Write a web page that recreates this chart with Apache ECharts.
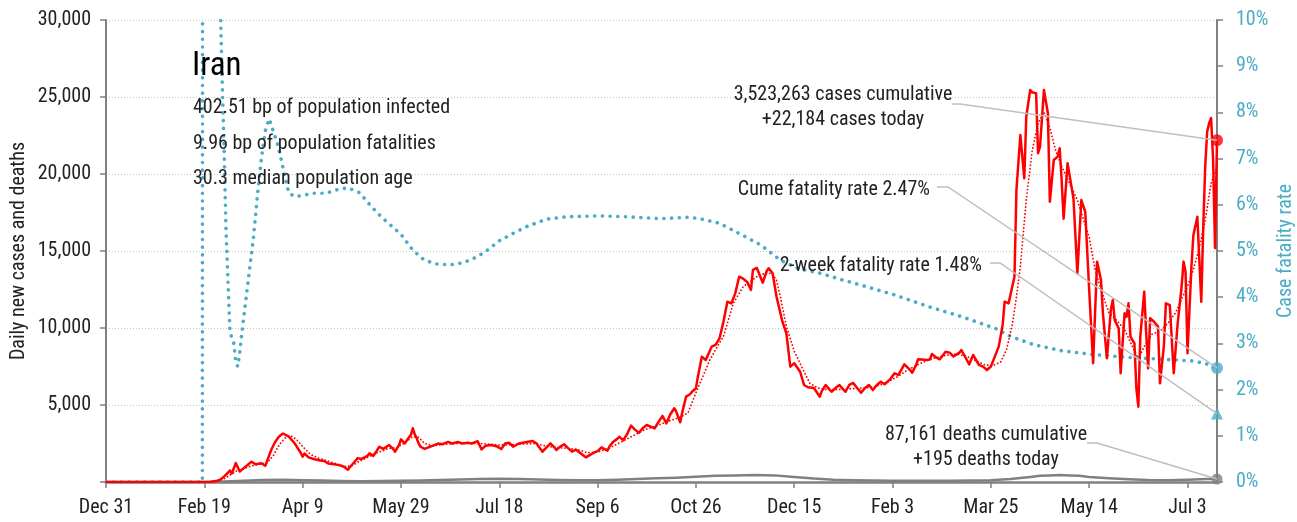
<!DOCTYPE html>
<html>
<head>
<meta charset="utf-8">
<title>Iran</title>
<script src="https://cdn.jsdelivr.net/npm/echarts@6/dist/echarts.min.js"></script>
<style>
  html, body { margin: 0; padding: 0; background: #ffffff; }
  #chart { width: 1297px; height: 522px; }
</style>
</head>
<body>
<div id="chart"></div>
<script>
// Days are counted from Dec 31, 2019 (day 0).
const START_DATE = Date.UTC(2019, 11, 31);
const LAST_DAY = 565;
const DAY_TICK_STEP = 50;
const MONTHS = ['Jan', 'Feb', 'Mar', 'Apr', 'May', 'Jun', 'Jul', 'Aug', 'Sep', 'Oct', 'Nov', 'Dec'];

const country = 'Iran';
const infoLines = [
  '402.51 bp of population infected',
  '9.96 bp of population fatalities',
  '30.3 median population age'
];
const totalCases = 3523263;
const totalDeaths = 87161;
const twoWeekFatalityRate = 1.48;

// Daily new cases: [day, cases]
const dailyCases = [
  [0,0],[50,0],[53,20],[56,60],[58,150],[60,350],[62,600],[63,750],[64,550],[66,1230],[68,680],[70,900],
  [72,1100],[74,1320],[76,1150],[77,1100],[79,1220],[81,1050],[82,950],[84,2080],[86,2600],[88,2950],
  [90,3150],[91,3100],[93,2950],[94,2850],[96,2500],[97,2300],[99,1900],[100,1650],[101,1850],[103,1600],
  [104,1550],[106,1480],[107,1430],[109,1400],[111,1360],[113,1200],[114,1100],[116,1150],[117,1100],
  [119,1080],[121,990],[122,900],[123,800],[125,1100],[127,1400],[128,1550],[130,1500],[131,1470],
  [133,1700],[134,1860],[136,1700],[137,1750],[139,2290],[141,2150],[142,2080],[144,2400],[146,2150],
  [147,1970],[149,2400],[150,2770],[152,2510],[154,2900],[155,3050],[156,3490],[157,3100],[158,2840],
  [159,2500],[160,2290],[162,2150],[163,2080],[165,2300],[167,2400],[169,2500],[171,2450],[172,2510],
  [174,2600],[176,2500],[177,2550],[179,2600],[181,2500],[182,2470],[184,2550],[186,2500],[187,2550],
  [189,2650],[190,2660],[191,2120],[193,2350],[194,2470],[196,2400],[197,2450],[199,2300],[201,2140],
  [203,2500],[205,2550],[207,2290],[208,2300],[210,2500],[212,2550],[214,2600],[217,2660],[219,2500],
  [220,2300],[222,1970],[224,2250],[226,2510],[228,2250],[229,2080],[231,2300],[233,2450],[235,2200],
  [237,1970],[239,2100],[240,2080],[242,1800],[244,1600],[246,1750],[248,1900],[250,2000],[252,2250],
  [253,2250],[255,2030],[256,2300],[258,2620],[260,2800],[261,2940],[263,2720],[265,3100],[267,3660],
  [269,3400],[271,3200],[273,3500],[275,3700],[277,3600],[279,3480],[281,3900],[283,4290],[285,3810],
  [287,4400],[289,4790],[290,4570],[292,3880],[293,4500],[295,5540],[297,5700],[298,5860],[300,6080],
  [301,6840],[303,8140],[305,7920],[306,8000],[308,8790],[310,8900],[312,9330],[314,10410],[316,11710],
  [318,11600],[320,12250],[322,13330],[324,13200],[326,13010],[328,12470],[329,13770],[331,13900],
  [332,13980],[334,12940],[336,13700],[337,13880],[339,13550],[341,12030],[343,10950],[344,10410],
  [346,9660],[348,7490],[350,7710],[351,7600],[353,7160],[355,6300],[357,6150],[358,6080],[360,6100],
  [363,5540],[364,5900],[366,6300],[368,6000],[369,5860],[371,6100],[373,6300],[375,6000],[376,5860],
  [378,6300],[380,6430],[382,6100],[384,5800],[386,6100],[388,6300],[390,5970],[392,6300],[394,6510],
  [396,6350],[397,6300],[399,6700],[401,7060],[403,6950],[404,6950],[406,7640],[408,7400],[410,7100],
  [412,7600],[413,7970],[415,7950],[417,7920],[419,7950],[420,8310],[422,8100],[424,7970],[426,8300],
  [427,8460],[429,8400],[431,8150],[432,8030],[434,8400],[435,8570],[437,8100],[439,7640],[441,8250],
  [443,7800],[444,7600],[446,7490],[448,7270],[450,7500],[452,8140],[454,8790],[456,10200],[457,11710],
  [459,11600],[460,11490],[462,13330],[463,18960],[465,22530],[467,19720],[468,23720],[470,25460],
  [471,25300],[472,25400],[473,25240],[474,21350],[475,21780],[477,25460],[479,23940],[480,18200],
  [482,20910],[484,21130],[485,21670],[486,19610],[487,17100],[489,20700],[491,19180],[492,18420],
  [494,13550],[496,18310],[498,17550],[500,12470],[502,7710],[504,14310],[506,13120],[507,10950],
  [509,8030],[511,11170],[512,11820],[513,10500],[515,9980],[516,7060],[518,10950],[519,10730],
  [520,11600],[521,9440],[523,9000],[524,6080],[525,4890],[526,9440],[528,12360],[529,9660],[530,7380],
  [531,10630],[533,10410],[535,10090],[536,6410],[538,8860],[539,11600],[541,11490],[542,11600],
  [543,7060],[545,10300],[547,12680],[548,14310],[549,13660],[550,8360],[552,14000],[553,16040],
  [554,16150],[555,17230],[556,17120],[557,11710],[558,16500],[559,20480],[560,22750],[561,23300],
  [562,23640],[563,21000],[564,15200],[565,22184]
];

// 7-day average of new cases: [day, cases]
const averageCases = [
  [0,0],[52,0],[56,30],[60,200],[63,450],[66,700],[70,850],[74,1050],[78,1150],[82,1250],[85,1700],
  [88,2400],[91,2850],[94,3000],[97,2750],[100,2300],[104,1800],[108,1550],[113,1350],[118,1150],
  [122,1000],[125,1050],[129,1350],[133,1600],[138,1900],[143,2150],[148,2250],[152,2550],[156,2950],
  [159,2900],[162,2500],[166,2350],[172,2450],[180,2520],[190,2500],[200,2400],[210,2450],[218,2500],
  [225,2300],[233,2200],[240,2100],[245,1900],[250,1950],[256,2200],[262,2600],[268,3000],[274,3400],
  [280,3650],[286,3950],[292,4200],[296,4500],[300,5800],[304,7000],[307,7900],[310,8600],[314,9440],
  [319,11600],[324,12680],[331,13330],[336,13600],[339,13500],[341,13100],[343,12000],[346,10100],
  [350,8500],[353,7700],[356,6900],[358,6400],[362,6100],[367,6000],[372,6000],[378,6050],[384,6100],
  [390,6150],[396,6400],[402,6800],[408,7300],[414,7700],[420,8000],[426,8200],[432,8300],[437,8200],
  [442,7900],[447,7600],[451,7550],[455,7800],[458,8600],[461,10300],[463,12000],[465,14000],
  [468,18300],[471,21500],[474,23300],[477,24000],[480,23000],[483,21500],[486,20500],[490,19400],
  [494,18300],[497,17100],[500,15900],[503,13800],[506,12500],[510,11000],[514,10500],[518,9900],
  [522,8800],[525,8000],[528,8800],[532,9600],[536,9800],[540,10300],[544,11000],[547,11900],
  [550,12700],[553,13800],[556,15200],[559,17000],[562,19400],[565,20500]
];

// Daily deaths: [day, deaths]
const dailyDeaths = [
  [0,0],[50,0],[55,5],[60,30],[70,80],[80,130],[90,145],[100,120],[110,90],[120,70],[130,50],[140,60],
  [150,75],[160,100],[170,130],[180,160],[190,200],[200,210],[210,190],[220,170],[230,130],[240,110],
  [250,120],[260,150],[270,200],[280,240],[290,280],[300,340],[310,400],[320,430],[330,460],[340,430],
  [350,330],[360,220],[370,150],[380,110],[390,90],[400,80],[410,75],[420,80],[430,85],[440,95],
  [450,110],[460,200],[470,330],[475,400],[480,430],[485,450],[490,420],[495,400],[500,330],[510,250],
  [520,180],[530,130],[540,120],[550,150],[560,190],[565,195]
];

// Cumulative case fatality rate, percent: [day, rate]
const caseFatalityRate = [
  [0,0],[49,0],[50,100],[51,40],[52,22],[53,18],[54,18.6],[55,19.7],[56,15.8],[57,13.7],[58,10.6],
  [59,8.8],[60,7.3],[61,5.5],[62,4.4],[63,3.3],[64,3.1],[65,3.0],[66,2.6],[67,2.5],[68,2.8],[69,3.2],
  [71,3.9],[73,4.6],[75,5.3],[77,6.2],[79,7.0],[81,7.6],[83,7.86],[85,7.6],[87,7.35],[89,7.0],
  [91,6.6],[93,6.25],[96,6.18],[100,6.2],[105,6.25],[112,6.25],[117,6.32],[123,6.37],[129,6.26],
  [135,5.96],[140,5.74],[145,5.55],[150,5.36],[156,5.02],[162,4.8],[168,4.72],[175,4.7],[182,4.75],
  [189,4.88],[194,5.02],[200,5.22],[207,5.38],[214,5.53],[224,5.69],[234,5.74],[250,5.76],[265,5.74],
  [282,5.7],[296,5.73],[302,5.7],[312,5.6],[322,5.38],[333,5.13],[343,4.8],[352,4.62],[363,4.52],
  [374,4.38],[384,4.26],[401,4.05],[418,3.8],[435,3.58],[452,3.33],[460,3.15],[472,2.97],[486,2.84],
  [502,2.76],[519,2.7],[536,2.66],[553,2.62],[560,2.55],[565,2.47]
];

const RED = '#ff0000';
const CYAN = '#4bacc6';
const GREY = '#808080';
const LEADER = '#bfbfbf';
const TEXT = '#222222';
const FONT = "'Roboto Condensed', Roboto, sans-serif";

const last = arr => arr[arr.length - 1];
const fmt = n => n.toLocaleString('en-US');
function dayLabel(d) {
  const dt = new Date(START_DATE + d * 86400000);
  return MONTHS[dt.getUTCMonth()] + ' ' + dt.getUTCDate();
}

const chart = echarts.init(document.getElementById('chart'), null, { renderer: 'canvas' });

const axisLabelBase = { fontFamily: FONT, fontSize: 20, color: TEXT };

chart.setOption({
  animation: false,
  backgroundColor: '#ffffff',
  grid: { left: 106, right: 80, top: 20, bottom: 40, outerBoundsMode: 'none' },
  xAxis: {
    type: 'value', min: 0, max: LAST_DAY, interval: DAY_TICK_STEP,
    axisLine: { lineStyle: { color: GREY, width: 2.5 } },
    axisTick: { length: 6, lineStyle: { color: GREY, width: 1.5 } },
    axisLabel: Object.assign({}, axisLabelBase, {
      margin: 16, showMaxLabel: false,
      formatter: v => (v % DAY_TICK_STEP === 0 ? dayLabel(v) : '')
    }),
    splitLine: { show: false }
  },
  yAxis: [
    {
      type: 'value', min: 0, max: 30000, interval: 5000, position: 'left',
      name: 'Daily new cases and deaths', nameLocation: 'middle', nameGap: 77, nameMoveOverlap: false,
      nameTextStyle: { fontFamily: FONT, fontSize: 20, color: TEXT },
      axisLine: { show: true, lineStyle: { color: GREY, width: 2 } },
      axisTick: { show: true, length: 6, lineStyle: { color: GREY, width: 1.5 } },
      axisLabel: Object.assign({}, axisLabelBase, {
        margin: 15, formatter: v => (v === 0 ? '' : fmt(v))
      }),
      splitLine: { show: true, lineStyle: { color: '#c4c4c4', width: 1, type: [1, 2] } }
    },
    {
      type: 'value', min: 0, max: 10, interval: 1, position: 'right',
      name: 'Case fatality rate', nameLocation: 'middle', nameGap: 59, nameMoveOverlap: false,
      nameTextStyle: { fontFamily: FONT, fontSize: 20, color: CYAN },
      axisLine: { show: true, lineStyle: { color: GREY, width: 2 } },
      axisTick: { show: true, length: 6, lineStyle: { color: GREY, width: 1.5 } },
      axisLabel: Object.assign({}, axisLabelBase, { color: CYAN, margin: 19, formatter: '{value}%' }),
      splitLine: { show: false }
    }
  ],
  series: [
    {
      name: 'Case fatality rate', type: 'line', yAxisIndex: 1, data: caseFatalityRate,
      showSymbol: false, symbol: 'none', z: 2,
      lineStyle: { color: CYAN, width: 3.6, type: [0.1, 7.6], cap: 'round', join: 'round' }
    },
    {
      name: 'Daily deaths', type: 'line', data: dailyDeaths, showSymbol: false, symbol: 'none', z: 3,
      lineStyle: { color: GREY, width: 2.5, join: 'round' }
    },
    {
      name: '7-day average cases', type: 'line', data: averageCases, showSymbol: false, symbol: 'none', z: 4,
      lineStyle: { color: RED, width: 1.8, type: [0.1, 3.4], cap: 'round', join: 'round' }
    },
    {
      name: 'Daily new cases', type: 'line', data: dailyCases, showSymbol: false, symbol: 'none', z: 5,
      lineStyle: { color: RED, width: 2.5, join: 'round' }
    },
    {
      type: 'scatter', data: [last(dailyCases)], symbol: 'circle', symbolSize: 12, clip: false, z: 8,
      itemStyle: { color: RED }
    },
    {
      type: 'scatter', data: [last(dailyDeaths)], symbol: 'circle', symbolSize: 11, clip: false, z: 8,
      itemStyle: { color: GREY }
    },
    {
      type: 'scatter', yAxisIndex: 1, data: [last(caseFatalityRate)], symbol: 'circle', symbolSize: 12,
      clip: false, z: 8, itemStyle: { color: CYAN }
    },
    {
      type: 'scatter', yAxisIndex: 1, data: [[LAST_DAY, twoWeekFatalityRate]], symbol: 'triangle',
      symbolSize: [12, 12], clip: false, z: 8, itemStyle: { color: CYAN }
    }
  ]
});

// Marker positions from the axes, used as leader line ends.
const toPx = (pt, yi) => chart.convertToPixel({ xAxisIndex: 0, yAxisIndex: yi }, pt);
const casesEnd = toPx(last(dailyCases), 0);
const deathsEnd = toPx(last(dailyDeaths), 0);
const cfrEnd = toPx(last(caseFatalityRate), 1);
const twoWeekEnd = toPx([LAST_DAY, twoWeekFatalityRate], 1);

function label(text, x, y, size, align, color) {
  return {
    type: 'text', x: x, y: y, z: 100, silent: true,
    style: {
      text: text, fill: color || TEXT, align: align || 'left', verticalAlign: 'middle',
      font: 'normal ' + size + 'px ' + FONT
    }
  };
}
function leader(x0, y0, x1, end) {
  return {
    type: 'polyline', z: 90, silent: true,
    shape: { points: [[x0, y0], [x1, y0], [end[0], end[1]]] },
    style: { stroke: LEADER, lineWidth: 1.5, fill: null }
  };
}

chart.setOption({
  graphic: [
    label(country, 192, 67, 33, 'left', '#000000'),
    label(infoLines[0], 193, 108, 20, 'left'),
    label(infoLines[1], 193, 144, 20, 'left'),
    label(infoLines[2], 193, 179, 20, 'left'),

    label(fmt(totalCases) + ' cases cumulative', 843, 95, 20, 'center'),
    label('+' + fmt(last(dailyCases)[1]) + ' cases today', 843, 120, 20, 'center'),
    leader(952, 104, 960, casesEnd),

    label('Cume fatality rate ' + last(caseFatalityRate)[1].toFixed(2) + '%', 930, 190, 20, 'right'),
    leader(937, 187, 948, cfrEnd),

    label('2-week fatality rate ' + twoWeekFatalityRate.toFixed(2) + '%', 982, 266, 20, 'right'),
    leader(990, 263, 1000, twoWeekEnd),

    label(fmt(totalDeaths) + ' deaths cumulative', 986, 435, 20, 'center'),
    label('+' + fmt(last(dailyDeaths)[1]) + ' deaths today', 986, 460, 20, 'center'),
    leader(1087, 443, 1097, deathsEnd)
  ]
});
</script>
</body>
</html>
